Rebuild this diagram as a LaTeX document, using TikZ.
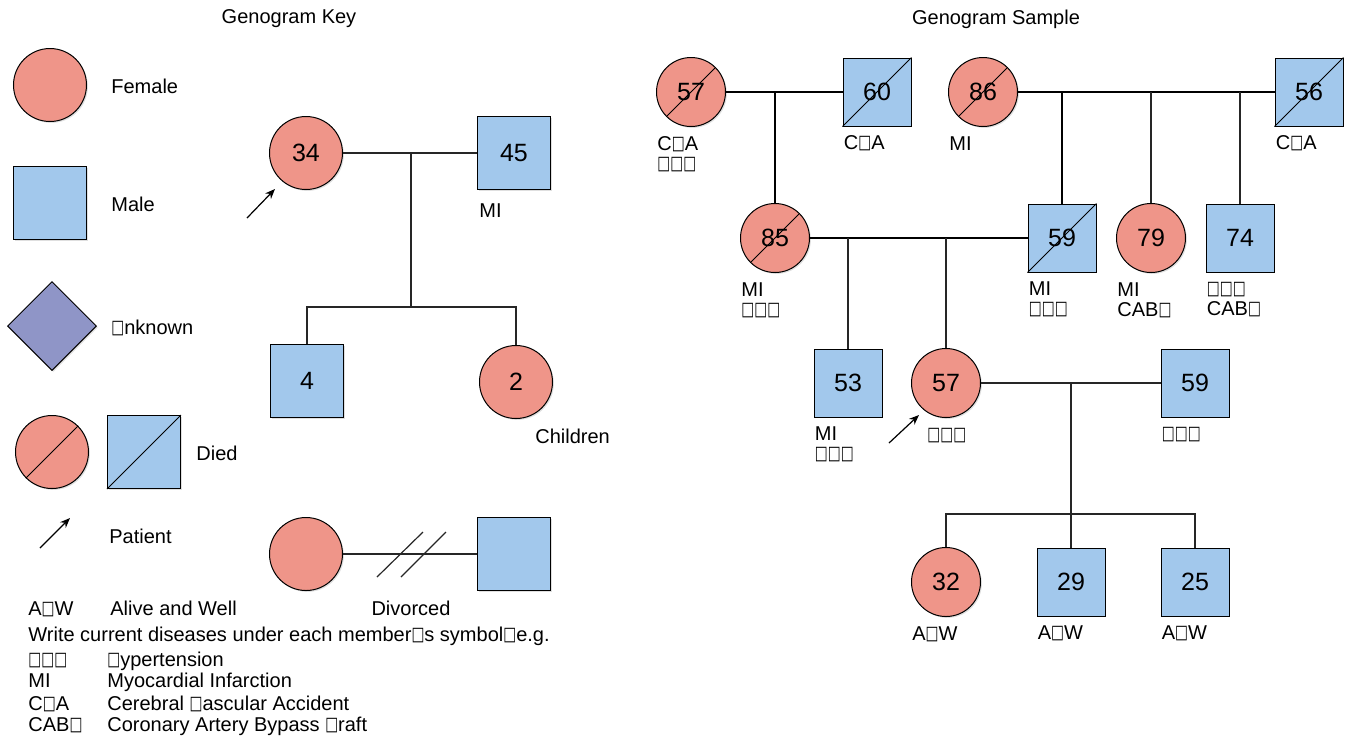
\documentclass[tikz,border=0pt]{standalone}
\usepackage{fontspec}
\setmainfont{Liberation Sans}
\newfontfamily\symfont{DejaVu Sans}
\usepackage{graphicx}
\usepackage{tikz}
\usetikzlibrary{arrows,arrows.meta,shapes,shadows,calc}
\definecolor{femfill}{RGB}{239,149,137}
\definecolor{malefill}{RGB}{162,200,236}
\definecolor{unkfill}{RGB}{143,149,199}
\newcommand{\nog}{\raisebox{0.05em}[0.7em][0pt]{\symfont\fontsize{9.5}{9.5}\selectfont\scalebox{0.72}[1]{□}}}

\begin{document}
\begin{tikzpicture}[x=0.5pt,y=-0.5pt,>={Stealth[length=5pt,width=4pt]},
        every node/.style={font=\fontsize{10}{10}\selectfont},
        person/.style={draw=black,line width=0.5pt,inner sep=0pt,font=\fontsize{12.5}{12.5}\selectfont,
          drop shadow={opacity=0.25,shadow xshift=0.7pt,shadow yshift=-0.7pt}},
        fem/.style={person,circle,fill=femfill,minimum size=34.5pt},
        mal/.style={person,rectangle,fill=malefill,minimum size=34pt},
        big/.style={minimum size=36.5pt},
        unk/.style={person,diamond,fill=unkfill,minimum size=44.5pt},
        lbl/.style={inner sep=0pt,anchor=north west,align=left,execute at begin node=\strut},
        txt/.style={inner sep=0pt,anchor=base west},
        rel/.style={line width=0.6pt,draw=black!85},
        mar/.style={line width=1pt,draw=black}]

        % key
        \node (tkey) at (289,19) {Genogram Key};
        \node[fem,big] (kfem) at (50,85) {};
        \node[inner sep=0pt,anchor=west] (lfem) at (111,86) {Female};
        \node[mal,big] (kmal) at (50,203) {};
        \node[inner sep=0pt,anchor=west] (lmal) at (111,204) {Male};
        \node[unk] (kunk) at (52,326) {};
        \node[inner sep=0pt,anchor=west] (lunk) at (111,327) {\nog nknown};
        \node[fem,big] (kdf) at (52,452) {};
        \node[mal,big] (kdm) at (144,452) {};
        \draw[line width=0.5pt] (kdf.225) -- (kdf.45) (kdm.south west) -- (kdm.north east);
        \node[inner sep=0pt,anchor=west] (ldied) at (196,453) {Died};
        \coordinate (pk0) at (40,548);
        \coordinate (pk1) at (70,518);
        \draw[->,line width=0.6pt] (pk0) -- (pk1);
        \node[inner sep=0pt,anchor=west] (lpat) at (109,536) {Patient};

        % key family
        \node[fem,big] (k34) at (306,153) {34};
        \node[mal,big] (k45) at (514,153) {45};
        \node[lbl] (l45) at ($(k45.south west)+(2,13)$) {MI};
        \node[mal,big] (k4) at (307,381) {4};
        \node[fem,big] (k2) at (516,382) {2};
        \node[inner sep=0pt,anchor=west] (lchild) at (535,436) {Children};
        \coordinate (kdrop) at (411,153);
        \coordinate (kbar) at (411,307);
        \path[rel] (k34) edge (k45) (kdrop) edge (kbar);
        \draw[rel] (k4.north) |- (kbar) -| (k2.north);
        \coordinate (pp0) at (247,218);
        \coordinate (pp1) at (275,189);
        \draw[->,line width=0.6pt] (pp0) -- (pp1);

        % divorced
        \node[fem,big] (kdw) at (306,554) {};
        \node[mal,big] (kdh) at (514,554) {};
        \path[rel] (kdw) edge (kdh);
        \coordinate (dv1a) at (377,577);
        \coordinate (dv1b) at (423,532);
        \coordinate (dv2a) at (401,577);
        \coordinate (dv2b) at (446,532);
        \draw[rel] (dv1a) -- (dv1b) (dv2a) -- (dv2b);
        \node[txt,anchor=base] (ldiv) at (411,615) {Divorced};

        % abbreviations
        \node[txt] (a1) at (28,615) {A\nog W};
        \node[txt] (b1) at (110,615) {Alive and Well};
        \node[txt] (a2) at (28,641) {Write current diseases under each member\nog s symbol\nog e.g.};
        \node[txt] (a3) at (28,666) {\nog\nog\nog};
        \node[txt] (b3) at (107,666) {\nog ypertension};
        \node[txt] (a4) at (28,687) {MI};
        \node[txt] (b4) at (107,687) {Myocardial Infarction};
        \node[txt] (a5) at (28,710) {C\nog A};
        \node[txt] (b5) at (107,710) {Cerebral \nog ascular Accident};
        \node[txt] (a6) at (28,731) {CAB\nog};
        \node[txt] (b6) at (107,731) {Coronary Artery Bypass \nog raft};

        % sample
        \node (tsam) at (996,19) {Genogram Sample};
        \node[fem] (s57a) at (691,92) {57};
        \node[mal] (s60) at (877,92) {60};
        \node[fem] (s86) at (983,92) {86};
        \node[mal] (s56) at (1309,92) {56};
        \node[fem] (s85) at (775,238) {85};
        \node[mal] (s59a) at (1062,238) {59};
        \node[fem] (s79) at (1151,238) {79};
        \node[mal] (s74) at (1240,238) {74};
        \node[mal] (s53) at (848,383) {53};
        \node[fem] (s57b) at (946,383) {57};
        \node[mal] (s59b) at (1195,383) {59};
        \node[fem] (s32) at (946,582) {32};
        \node[mal] (s29) at (1071,582) {29};
        \node[mal] (s25) at (1195,582) {25};
        \draw[line width=0.5pt] (s57a.225) -- (s57a.45) (s86.225) -- (s86.45) (s85.225) -- (s85.45)
          (s60.south west) -- (s60.north east) (s56.south west) -- (s56.north east)
          (s59a.south west) -- (s59a.north east);

        \node[lbl] (l57a) at ($(s57a.west |- s57a.south)+(1,9)$) {C\nog A\\\nog\nog\nog};
        \node[lbl] (l60) at ($(s60.south west)+(1,9)$) {C\nog A};
        \node[lbl] (l86) at ($(s86.west |- s86.south)+(1,9)$) {MI};
        \node[lbl] (l56) at ($(s56.south west)+(1,9)$) {C\nog A};
        \node[lbl] (l85) at ($(s85.west |- s85.south)+(1,9)$) {MI\\\nog\nog\nog};
        \node[lbl] (l59a) at ($(s59a.south west)+(1,9)$) {MI\\\nog\nog\nog};
        \node[lbl] (l79) at ($(s79.west |- s79.south)+(1,9)$) {MI\\CAB\nog};
        \node[lbl] (l74) at ($(s74.south west)+(1,9)$) {\nog\nog\nog\\CAB\nog};
        \node[lbl] (l53) at ($(s53.south west)+(1,9)$) {MI\\\nog\nog\nog};
        \node[lbl] (l57b) at ($(s57b.west |- s57b.south)+(16,9)$) {\nog\nog\nog};
        \node[lbl] (l59b) at ($(s59b.south west)+(1,9)$) {\nog\nog\nog};
        \node[lbl] (l32) at ($(s32.west |- s32.south)+(1,9)$) {A\nog W};
        \node[lbl] (l29) at ($(s29.south west)+(1,9)$) {A\nog W};
        \node[lbl] (l25) at ($(s25.south west)+(1,9)$) {A\nog W};

        \path[mar]
          (s57a) edge (s60)
          (s86) edge (s56)
          (s85) edge (s59a)
          (s85.north) edge (s85 |- s57a)
          (s59a.north) edge (s59a |- s86);
        \path[rel]
          (s79.north) edge (s79 |- s86)
          (s74.north) edge (s74 |- s86)
          (s53.north) edge (s53 |- s85)
          (s57b.north) edge (s57b |- s85)
          (s57b) edge (s59b);
        \coordinate (sbar) at (1071,514);
        \draw[rel] (sbar |- s57b) -- (sbar) -- (s29.north);
        \draw[rel] (s32.north) |- (sbar) -| (s25.north);
        \coordinate (ps0) at (889,443);
        \coordinate (ps1) at (919,415);
        \draw[->,line width=0.6pt] (ps0) -- (ps1);

        \useasboundingbox (0,0) rectangle (1346,736);
\end{tikzpicture}
\end{document}
